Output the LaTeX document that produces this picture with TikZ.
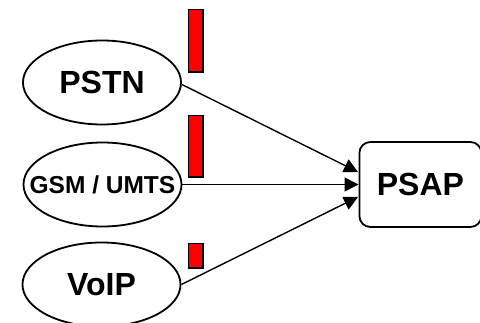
\documentclass[tikz,border=0pt]{standalone}
\usepackage{fontspec}
\setmainfont{Liberation Sans}
\usetikzlibrary{shapes.geometric,arrows.meta}
\begin{document}
\begin{tikzpicture}[x=1pt,y=-1pt,
  net/.style={draw=black,line width=1.8pt,ellipse,minimum width=158pt,minimum height=84pt,inner sep=0pt,font=\bfseries\fontsize{32}{36}\selectfont},
  bar/.style={draw=black,line width=1.2pt,fill=red},
  conn/.style={line width=1.4pt,-{Triangle[length=14pt,width=14pt]}},
  psap/.style={draw=black,line width=1.8pt,rounded corners=11pt,minimum width=122pt,minimum height=85pt,inner sep=0pt,font=\bfseries\fontsize{32}{36}\selectfont}]
\useasboundingbox (0,0) rectangle (480,323);
\clip (0,0) rectangle (480,323);
\node[net] (pstn) at (102,82.5) {PSTN};
\node[net,font=\bfseries\fontsize{24.5}{28}\selectfont] (gsm) at (102.5,184.5) {\makebox[0pt]{GSM / UMTS}};
\node[net] (voip) at (101.5,284.5) {VoIP};
\node[psap,anchor=west] (psap) at (358.5,184.5) {PSAP};
\draw[bar] (188.5,9.5) rectangle (203,72);
\draw[bar] (188.5,115.5) rectangle (203,177);
\draw[bar] (188.5,243.5) rectangle (203,268);
\coordinate (t1) at (358,172);
\coordinate (t3) at (358,197);
\draw[conn] (pstn.east) ++(0,2) -- (t1);
\draw[conn] (gsm.east) -- (psap.west);
\draw[conn] (voip.east) -- (t3);
\end{tikzpicture}
\end{document}
